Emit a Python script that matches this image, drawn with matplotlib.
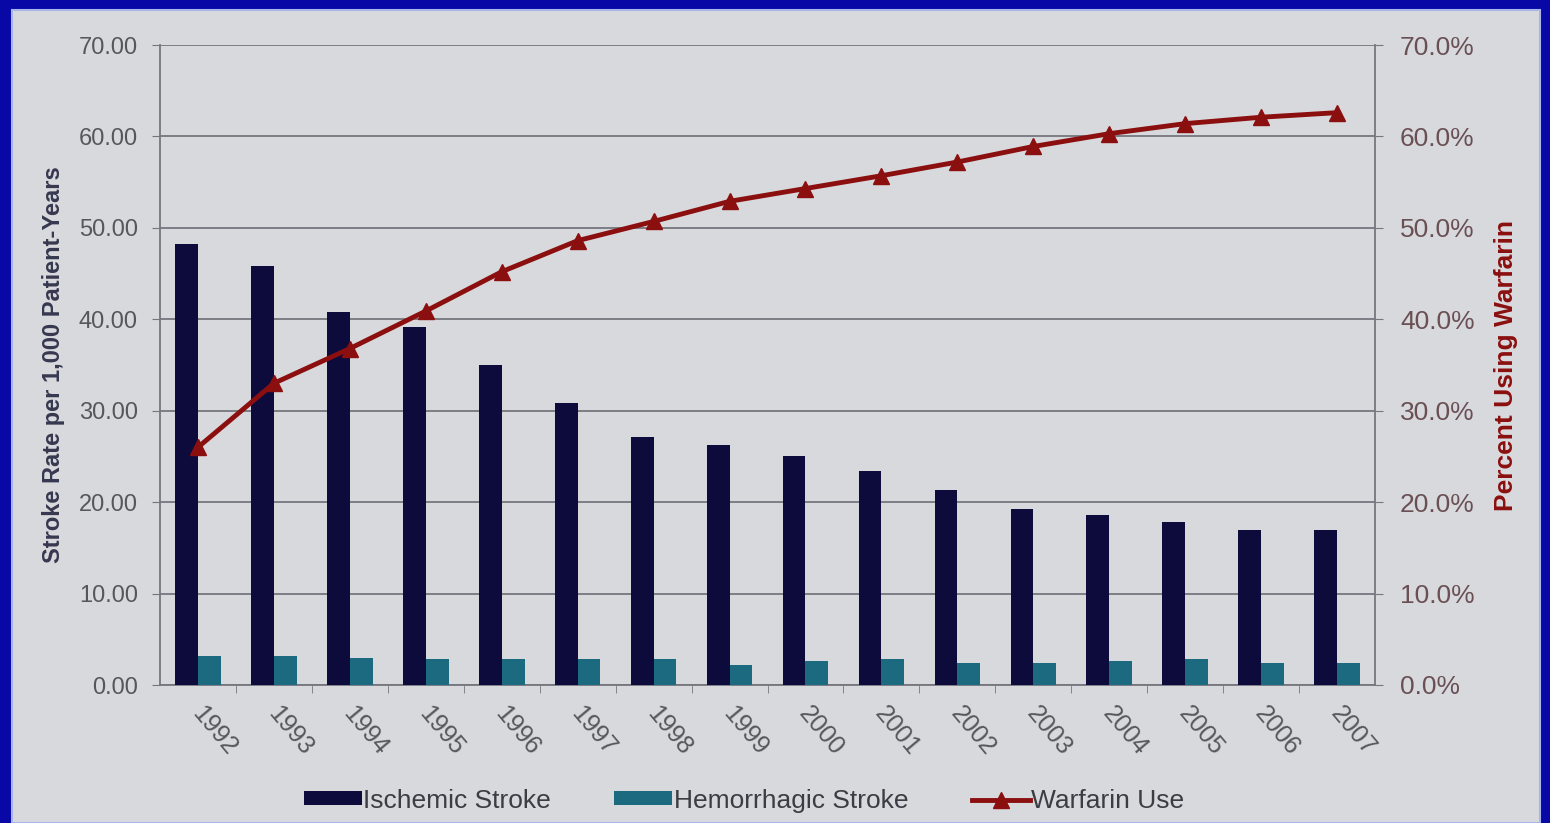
import matplotlib.pyplot as plt
import matplotlib.transforms as mtransforms
from matplotlib.patches import Rectangle, Patch
from matplotlib.lines import Line2D
from matplotlib.ticker import FuncFormatter, MultipleLocator

years = ['1992', '1993', '1994', '1995', '1996', '1997', '1998', '1999',
         '2000', '2001', '2002', '2003', '2004', '2005', '2006', '2007']
ischemic = [48.2, 45.8, 40.8, 39.2, 35.0, 30.8, 27.1, 26.2,
            25.1, 23.4, 21.3, 19.3, 18.6, 17.8, 17.0, 16.9]
hemorrhagic = [3.2, 3.2, 3.0, 2.8, 2.8, 2.8, 2.8, 2.2,
               2.6, 2.8, 2.4, 2.4, 2.6, 2.8, 2.4, 2.4]
warfarin = [26.0, 33.0, 36.8, 40.9, 45.2, 48.6, 50.7, 52.9,
            54.3, 55.7, 57.2, 58.9, 60.3, 61.4, 62.1, 62.6]

navy = '#0c0b3b'
teal = '#1b6a80'
red = '#8b0f0f'
grid_col = '#76767e'
text_col = '#56565c'

plt.rcParams['font.family'] = ['Liberation Sans', 'DejaVu Sans']

fig = plt.figure(figsize=(15.5, 8.23), dpi=100, facecolor='#0808a6')
# light slide area inside the blue frame
fig.patches.append(Rectangle((12 / 1550, 0), 1528 / 1550, 813 / 823,
                             transform=fig.transFigure, facecolor='#d8d9dd',
                             edgecolor='#a9b6ea', linewidth=1.5, zorder=-10))

ax = fig.add_axes([160 / 1550, 138 / 823, 1215 / 1550, 640 / 823])
ax.set_facecolor('none')
x = list(range(len(years)))
w = 0.3
ax.bar([i - w / 2 for i in x], ischemic, width=w, color=navy, zorder=3)
ax.bar([i + w / 2 for i in x], hemorrhagic, width=w, color=teal, zorder=3)

ax.set_xlim(-0.5, len(years) - 0.5)
ax.set_ylim(0, 70)
ax.yaxis.set_major_locator(MultipleLocator(10))
ax.yaxis.set_major_formatter(FuncFormatter(lambda v, p: f'{v:.2f}'))
ax.grid(axis='y', color=grid_col, linewidth=1.3, zorder=0)
ax.tick_params(axis='y', length=6, color=grid_col, pad=10,
               labelsize=17, labelcolor=text_col)

# category boundaries get the tick marks, labels sit under the bars
ax.set_xticks(x)
ax.set_xticks([i + 0.5 for i in x[:-1]], minor=True)
ax.tick_params(axis='x', which='major', length=0, pad=12,
               labelsize=18, labelcolor=text_col)
ax.tick_params(axis='x', which='minor', length=6, color=grid_col)
ax.set_xticklabels(years, rotation=-50, ha='center')
shift = mtransforms.ScaledTranslation(0.16, 0, fig.dpi_scale_trans)
for lab in ax.get_xticklabels():
    lab.set_transform(lab.get_transform() + shift)

for side in ['top', 'right']:
    ax.spines[side].set_visible(False)
for side in ['left', 'bottom']:
    ax.spines[side].set_color(grid_col)
    ax.spines[side].set_linewidth(1.3)

ax.set_ylabel('Stroke Rate per 1,000 Patient-Years', fontsize=17,
              fontweight='bold', color='#35384f', labelpad=10)

# warfarin share on the right axis
ax2 = ax.twinx()
ax2.plot(x, warfarin, color=red, linewidth=3.5, marker='^', markersize=12,
         zorder=5)
ax2.set_ylim(0, 70)
ax2.yaxis.set_major_locator(MultipleLocator(10))
ax2.yaxis.set_major_formatter(FuncFormatter(lambda v, p: f'{v:.1f}%'))
ax2.tick_params(axis='y', length=6, color=grid_col, pad=12,
                labelsize=19, labelcolor='#6a5054')
for side in ['top', 'left', 'bottom']:
    ax2.spines[side].set_visible(False)
ax2.spines['right'].set_color(grid_col)
ax2.spines['right'].set_linewidth(1.3)
ax2.set_ylabel('Percent Using Warfarin', fontsize=19, fontweight='bold',
               color=red, labelpad=14)

legend_elements = [Patch(facecolor=navy, label='Ischemic Stroke'),
                   Patch(facecolor=teal, label='Hemorrhagic Stroke'),
                   Line2D([0], [0], color=red, linewidth=3.5, marker='^',
                          markersize=11, label='Warfarin Use')]
fig.legend(handles=legend_elements, loc='center', ncol=3,
           bbox_to_anchor=(0.48, 0.027), frameon=False, fontsize=19,
           labelcolor='#3c3c44', handlelength=2.2, handleheight=0.45,
           handletextpad=0.05, columnspacing=2.4)

fig.savefig('out.png', dpi=100, facecolor=fig.get_facecolor())
